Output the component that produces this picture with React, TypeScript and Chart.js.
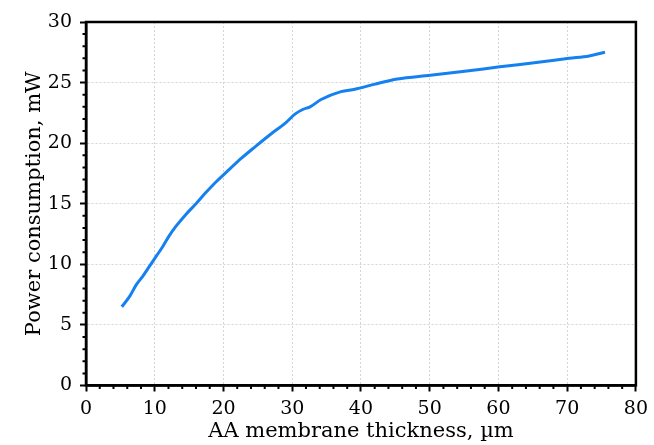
import React, { useEffect, useRef } from 'react';
import { Chart, registerables } from 'chart.js';

Chart.register(...registerables);

// Data
const thickness = [5.2, 6.35, 7.3, 8.3, 9.25, 10.2, 11.15, 12.1, 13.1, 14.5, 16.0, 17.4, 18.9, 20.5, 22.7, 24.6, 27.0, 29.0, 30.4, 31.6, 32.6, 34.2, 37.1, 39.1, 41.9, 45.3, 50.1, 55.4, 60.2, 65.5, 70.3, 73.2, 75.5];
const power = [6.5, 7.35, 8.3, 9.05, 9.85, 10.65, 11.45, 12.35, 13.15, 14.1, 15.0, 15.9, 16.8, 17.65, 18.8, 19.7, 20.8, 21.65, 22.4, 22.8, 23.0, 23.6, 24.25, 24.45, 24.85, 25.3, 25.6, 25.95, 26.3, 26.65, 27.0, 27.2, 27.5];

const xTitle = 'AA membrane thickness, µm';
const yTitle = 'Power consumption, mW';
const xRange = { min: 0, max: 80, major: 10, minor: 2 };
const yRange = { min: 0, max: 30, major: 5, minor: 1 };

const FONT = "'DejaVu Serif', serif";

const frameAndMinorTicks = {
  id: 'frameAndMinorTicks',
  afterDraw(chart: any) {
    const { ctx, chartArea, scales } = chart;
    const xs = scales.x;
    const ys = scales.y;
    ctx.save();
    ctx.strokeStyle = '#000';
    ctx.lineWidth = 2;
    ctx.beginPath();
    for (let v = xRange.min; v <= xRange.max; v += xRange.minor) {
      if (v % xRange.major === 0) continue;
      const px = xs.getPixelForValue(v);
      ctx.moveTo(px, chartArea.bottom);
      ctx.lineTo(px, chartArea.bottom + 3.5);
    }
    for (let v = yRange.min; v <= yRange.max; v += yRange.minor) {
      if (v % yRange.major === 0) continue;
      const py = ys.getPixelForValue(v);
      ctx.moveTo(chartArea.left, py);
      ctx.lineTo(chartArea.left - 3.5, py);
    }
    ctx.stroke();
    ctx.lineWidth = 2.5;
    ctx.strokeRect(chartArea.left, chartArea.top, chartArea.right - chartArea.left, chartArea.bottom - chartArea.top);
    ctx.restore();
  },
};

export default function App() {
  const canvasRef = useRef<HTMLCanvasElement | null>(null);

  useEffect(() => {
    if (!canvasRef.current) return;
    const chart = new Chart(canvasRef.current, {
      type: 'line',
      data: {
        datasets: [
          {
            data: thickness.map((x, i) => ({ x, y: power[i] })),
            borderColor: '#1580f0',
            borderWidth: 3,
            pointRadius: 0,
            fill: false,
            cubicInterpolationMode: 'monotone',
          },
        ],
      },
      options: {
        animation: false,
        responsive: true,
        maintainAspectRatio: false,
        layout: { padding: { top: 22, right: 12, left: 0, bottom: 0 } },
        plugins: { legend: { display: false }, tooltip: { enabled: false } },
        scales: {
          x: {
            type: 'linear',
            min: xRange.min,
            max: xRange.max,
            afterFit: (s: any) => { s.height = 59.5; },
            ticks: {
              stepSize: xRange.major,
              color: '#000',
              padding: 6,
              maxRotation: 0,
              font: { family: FONT, size: 19 },
            },
            grid: { color: '#d4d4d4', lineWidth: 1, tickLength: 6, tickColor: '#000', tickWidth: 2 },
            border: { display: true, color: '#000', width: 2.5, dash: [2, 2] },
            title: {
              display: true,
              text: xTitle,
              color: '#000',
              font: { family: FONT, size: 21 },
              padding: { top: 0, bottom: 1 },
            },
          },
          y: {
            type: 'linear',
            min: yRange.min,
            max: yRange.max,
            afterFit: (s: any) => { s.width = 86; },
            ticks: {
              stepSize: yRange.major,
              color: '#000',
              padding: 8,
              font: { family: FONT, size: 19 },
            },
            grid: { color: '#d4d4d4', lineWidth: 1, tickLength: 6, tickColor: '#000', tickWidth: 2 },
            border: { display: true, color: '#000', width: 2.5, dash: [2, 2] },
            title: {
              display: true,
              text: yTitle,
              color: '#000',
              font: { family: FONT, size: 21 },
              padding: { top: 22, bottom: 0 },
            },
          },
        },
      },
      plugins: [frameAndMinorTicks],
    } as any);
    return () => chart.destroy();
  }, []);

  return (
    <div style={{ position: 'absolute', left: 0, top: 0, width: 654, height: 445, background: '#fff' }}>
      <canvas ref={canvasRef} />
    </div>
  );
}
